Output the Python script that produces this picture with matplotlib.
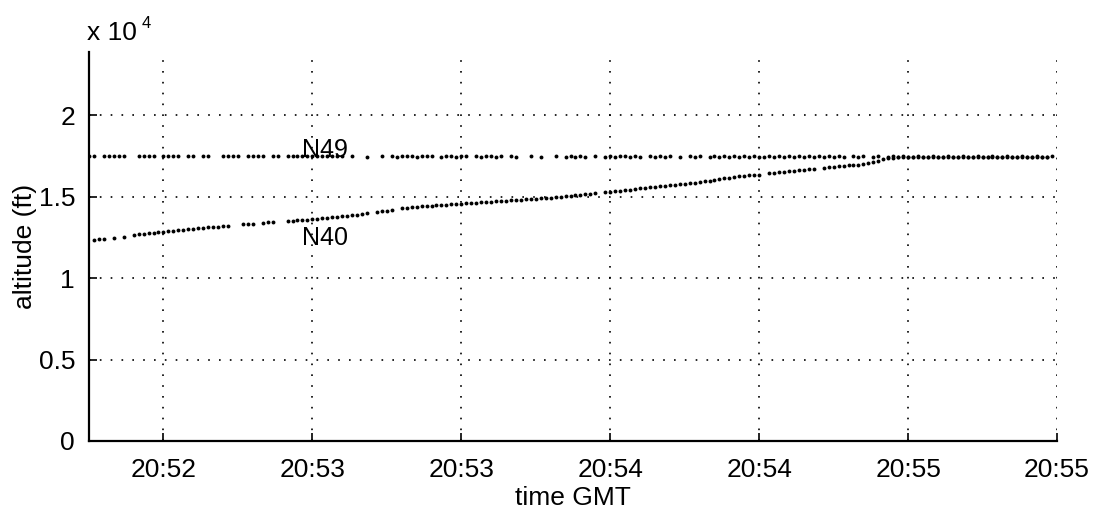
import numpy as np
import matplotlib
matplotlib.use("Agg")
import matplotlib.pyplot as plt
from matplotlib.ticker import FuncFormatter

nan = np.nan

# seconds relative to 20:52:30 GMT (one sample per second)
t_sec = list(range(-15, 180))

# altitude (ft) of N49, one value per second (nan = no report)
alt_n49 = [
    17480, 17480, nan, 17490, 17480, 17480, 17490, 17480, nan, nan,
    17480, 17490, 17480, 17480, nan, 17480, 17490, 17480, 17480, nan,
    17480, 17480, nan, 17490, 17480, nan, nan, 17480, 17480, 17490,
    17480, nan, 17480, 17480, 17490, 17480, nan, 17480, 17480, nan,
    17480, 17490, 17480, 17480, 17480, 17490, 17480, 17480, 17480, 17490,
    17480, 17480, nan, 17480, nan, nan, 17470, nan, nan, 17480,
    nan, 17480, 17470, 17480, 17480, 17480, 17470, 17480, 17480, 17480,
    nan, 17470, 17480, 17480, 17470, 17480, 17480, nan, 17480, 17470,
    17480, 17480, 17470, 17480, nan, 17480, 17470, nan, nan, 17480,
    nan, 17470, nan, nan, 17480, nan, 17470, 17480, 17470, 17480,
    17470, nan, 17480, nan, 17470, 17480, 17470, 17480, 17480, 17470,
    17480, 17470, nan, 17480, 17470, 17480, 17470, 17480, nan, 17470,
    nan, 17480, 17470, 17480, nan, 17470, 17480, 17470, 17480, 17470,
    17480, 17470, 17480, 17470, 17480, 17470, 17470, 17480, 17470, 17480,
    17470, 17480, 17470, 17480, 17470, 17480, 17470, 17480, 17470, 17480,
    17470, 17480, 17470, nan, 17480, 17470, 17480, nan, 17470, 17480,
    nan, 17470, 17480, 17470, 17480, 17470, 17460, 17480, 17470, 17460,
    17480, 17470, 17460, 17480, 17470, 17460, 17480, 17470, 17460, 17480,
    17470, 17460, 17480, 17470, 17460, 17480, 17470, 17460, 17480, 17470,
    17460, 17480, 17470, 17460, 17480,
]

# altitude (ft) of N40, one value per second (nan = no report)
alt_n40 = [
    nan, 12370, 12390, 12420, nan, 12480, nan, 12540, nan, 12650,
    12700, 12730, 12760, 12790, 12820, 12850, 12880, 12910, 12950, 12980,
    13010, 13040, 13080, 13100, 13120, 13150, 13170, 13200, 13220, nan,
    nan, 13300, 13330, 13350, nan, 13400, 13420, 13440, nan, nan,
    13500, 13520, 13550, 13570, 13590, 13610, 13640, 13670, 13700, 13730,
    13760, 13790, 13830, 13860, 13900, 13940, 13980, nan, 14060, 14100,
    14140, 14180, nan, 14290, 14330, 14370, 14390, 14410, 14430, 14450,
    14470, 14490, 14510, 14540, 14560, 14580, 14600, 14620, 14640, 14660,
    14680, 14700, 14720, 14740, 14760, 14780, 14800, 14820, 14840, 14870,
    14890, 14910, 14930, 14950, 14980, 15000, 15020, 15050, 15080, 15110,
    15140, 15170, 15200, nan, 15270, 15300, 15340, 15370, 15410, 15440,
    15480, 15510, 15550, 15590, 15620, 15650, 15680, 15710, 15740, 15770,
    15800, 15830, 15860, 15900, 15940, 15980, 16030, 16080, 16130, 16180,
    16230, 16280, 16300, 16320, 16340, 16360, nan, 16450, 16480, 16510,
    16540, 16570, 16600, 16630, 16660, 16690, 16720, nan, 16780, 16810,
    16840, 16870, 16900, 16930, 16950, 16980, 17030, 17090, 17150, 17220,
    17290, 17350, 17400, 17440, 17450, 17430, 17440, 17450, 17430, 17440,
    17450, 17420, 17440, 17450, 17430, 17440, 17430, 17450, 17440, 17420,
    17450, 17430, 17440, 17420, 17450, 17430, 17440, 17420, 17450, 17430,
    17440, 17420, 17450, 17440, nan,
]

x_ticks = [0, 30, 60, 90, 120, 150, 180]
x_tick_labels = ["20:52", "20:53", "20:53", "20:54", "20:54", "20:55", "20:55"]
y_ticks = [0, 5000, 10000, 15000, 20000]

plt.rcParams["font.family"] = ["Liberation Sans", "DejaVu Sans"]

W, H = 1102, 516
fig = plt.figure(figsize=(W / 100, H / 100), dpi=100)
ax = fig.add_axes([89 / W, 1 - 441 / H, (1057 - 89) / W, (441 - 52) / H])

ax.plot(t_sec, alt_n49, linestyle="none", marker="o", markersize=2.8,
        color="black", markeredgewidth=0)
ax.plot(t_sec, alt_n40, linestyle="none", marker="o", markersize=2.8,
        color="black", markeredgewidth=0)

ax.text(32.6, 17900, "N49", ha="center", va="center", fontsize=18)
ax.text(32.6, 12450, "N40", ha="center", va="center", fontsize=18)

ax.set_xlim(-15, 180)
ax.set_ylim(0, 23890)
ax.set_xticks(x_ticks)
ax.set_xticklabels(x_tick_labels)
ax.set_yticks(y_ticks)
ax.yaxis.set_major_formatter(FuncFormatter(lambda v, p: f"{v / 1e4:g}"))

ax.grid(True, color="black", linestyle=(0, (1, 5.5)), linewidth=1.2)
for s in ["top", "right"]:
    ax.spines[s].set_visible(False)
for s in ["left", "bottom"]:
    ax.spines[s].set_linewidth(1.6)
ax.tick_params(direction="in", length=6, width=1.2, labelsize=19)
ax.tick_params(axis="x", pad=12)
ax.tick_params(axis="y", pad=10)

ax.set_xlabel("time GMT", fontsize=19, labelpad=3)
ax.set_ylabel("altitude (ft)", fontsize=19, labelpad=1)

fig.text(87 / W, 1 - 40 / H, "x 10", fontsize=19, va="baseline", ha="left")
fig.text(142 / W, 1 - 28 / H, "4", fontsize=12, va="baseline", ha="left")

fig.savefig("out.png", dpi=100)
